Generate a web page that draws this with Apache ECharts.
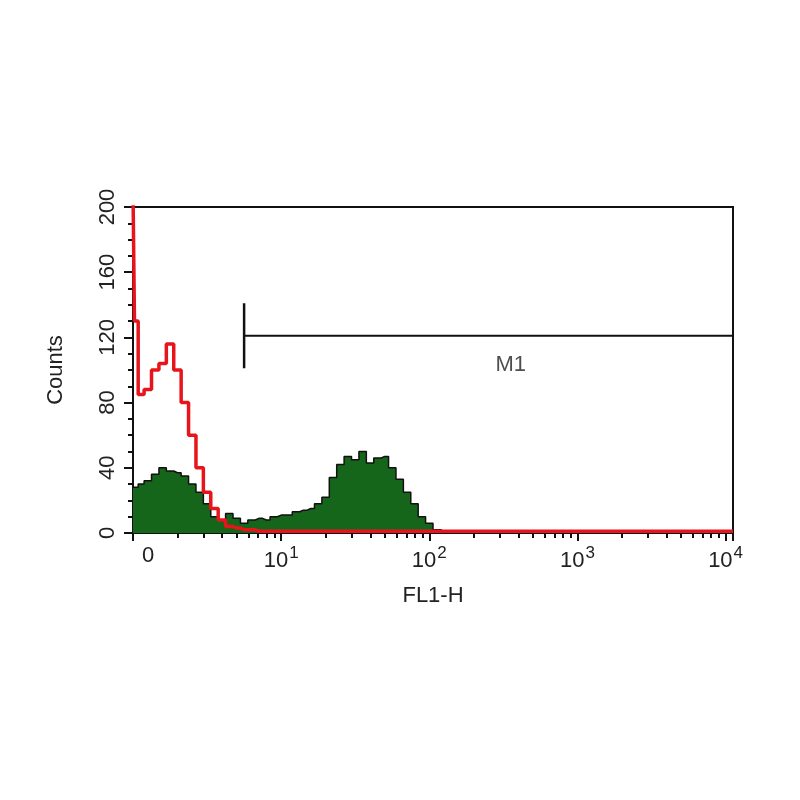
<!DOCTYPE html>
<html lang="en">
<head>
<meta charset="UTF-8">
<title>FL1-H histogram</title>
<style>
    html, body { margin: 0; background: #fff; }
    #main { width: 800px; height: 800px; }
</style>
</head>
<body>
<div id="main"></div>
<script src="https://cdn.jsdelivr.net/npm/echarts@6/dist/echarts.min.js"></script>
<script>
    // positions in decades (log10 of FL1-H)
    var decades = [0, 0.02, 0.05, 0.1, 0.15, 0.2, 0.25, 0.3, 0.35, 0.4, 0.45, 0.5, 0.55, 0.6, 0.65, 0.7, 0.75, 0.8, 0.85, 0.9, 0.95,
        1.0, 1.05, 1.1, 1.15, 1.2, 1.25, 1.3, 1.35, 1.4, 1.45, 1.5, 1.55, 1.6, 1.65, 1.7, 1.75, 1.8, 1.85, 1.9, 1.95,
        2.0, 2.05, 2.1, 2.2, 2.5, 3.0, 3.5, 4.05];
    var greenCounts = [28, 28, 30, 32, 36, 40, 38, 37, 35, 30, 25, 18, 10, 8, 12, 9, 6, 8, 9, 8, 10,
        11, 11, 13, 14, 15, 18, 22, 34, 42, 47, 45, 50, 43, 46, 47, 40, 33, 25, 18, 10,
        6, 2, 1, 0, 0, 0, 0, 0];
    var redCounts = [210, 130, 85, 88, 100, 104, 116, 100, 80, 60, 40, 25, 15, 8, 4, 3, 2, 2, 1, 1, 1,
        1, 1, 1, 1, 1, 1, 1, 1, 1, 1, 1, 1, 1, 1, 1, 1, 1, 1, 1, 1,
        1, 1, 1, 1, 1, 1, 1, 1];
    var yTicks = [0, 40, 80, 120, 160, 200];
    var gateStart = 0.75, gateEnd = 4.05, gateLevel = 121, gateHalf = 20;

    function pts(ys) {
        return decades.map(function (d, i) { return [Math.pow(10, d), ys[i]]; });
    }

    var myChart = echarts.init(document.getElementById('main'));
    var option = {
        backgroundColor: '#fff',
        animation: false,
        grid: { left: 133, right: 67, top: 207, bottom: 267, show: true, borderColor: '#111', borderWidth: 2 },
        xAxis: {
            type: 'log', logBase: 10, min: 1, max: Math.pow(10, 4.05),
            name: 'FL1-H', nameLocation: 'middle', nameGap: 52,
            nameTextStyle: { fontSize: 22, color: '#222', fontFamily: 'Liberation Sans' },
            axisLine: { lineStyle: { color: '#111', width: 2 } },
            axisTick: { length: 8, lineStyle: { color: '#111', width: 2 } },
            minorTick: { show: true, splitNumber: 9, length: 5, lineStyle: { color: '#111', width: 2 } },
            splitLine: { show: false },
            axisLabel: {
                margin: 12, color: '#222', fontSize: 22, fontFamily: 'Liberation Sans',
                showMaxLabel: false,
                formatter: function (v) {
                    var k = Math.round(Math.log10(v));
                    if (k === 0) return '{z|0}';
                    return '10{s|' + k + '}';
                },
                rich: {
                    s: { fontSize: 17, verticalAlign: 'top', padding: [0, 0, 14, 1], color: '#222' },
                    z: { fontSize: 22, padding: [0, 0, 0, 30], color: '#222' }
                }
            }
        },
        yAxis: {
            type: 'value', min: 0, max: 200, interval: 40,
            name: 'Counts', nameLocation: 'middle', nameGap: 66,
            nameTextStyle: { fontSize: 22, color: '#222', fontFamily: 'Liberation Sans' },
            axisLine: { show: true, lineStyle: { color: '#111', width: 2 } },
            axisTick: { length: 9, lineStyle: { color: '#111', width: 2 } },
            minorTick: { show: true, splitNumber: 4, length: 5, lineStyle: { color: '#111', width: 2 } },
            splitLine: { show: false },
            axisLabel: {
                rotate: 90, margin: 14, color: '#222', fontSize: 22, fontFamily: 'Liberation Sans',
                formatter: function (v) { return yTicks.indexOf(v) >= 0 ? String(v) : ''; }
            }
        },
        series: [
            {
                type: 'line', data: pts(greenCounts), step: 'middle', symbol: 'none',
                lineStyle: { color: '#111', width: 1.5 },
                areaStyle: { color: '#15661a', opacity: 1 }, z: 2
            },
            {
                type: 'line', data: pts(redCounts), step: 'middle', symbol: 'none', clip: true,
                lineStyle: { color: '#e8141c', width: 3.5 }, z: 3
            },
            {
                type: 'line', symbol: 'none', lineStyle: { color: '#111', width: 2 }, z: 4,
                data: [[Math.pow(10, gateStart), gateLevel], [Math.pow(10, gateEnd), gateLevel]]
            },
            {
                type: 'line', symbol: 'none', lineStyle: { color: '#111', width: 2.5 }, z: 4,
                data: [[Math.pow(10, gateStart), gateLevel - gateHalf], [Math.pow(10, gateStart), gateLevel + gateHalf]]
            },
            {
                type: 'scatter', symbolSize: 0, z: 5,
                data: [[Math.pow(10, 2.55), gateLevel - 18]],
                label: { show: true, formatter: 'M1', color: '#222', fontSize: 22, fontFamily: 'Liberation Sans', position: 'inside' }
            }
        ]
    };
    myChart.setOption(option);
</script>
</body>
</html>
